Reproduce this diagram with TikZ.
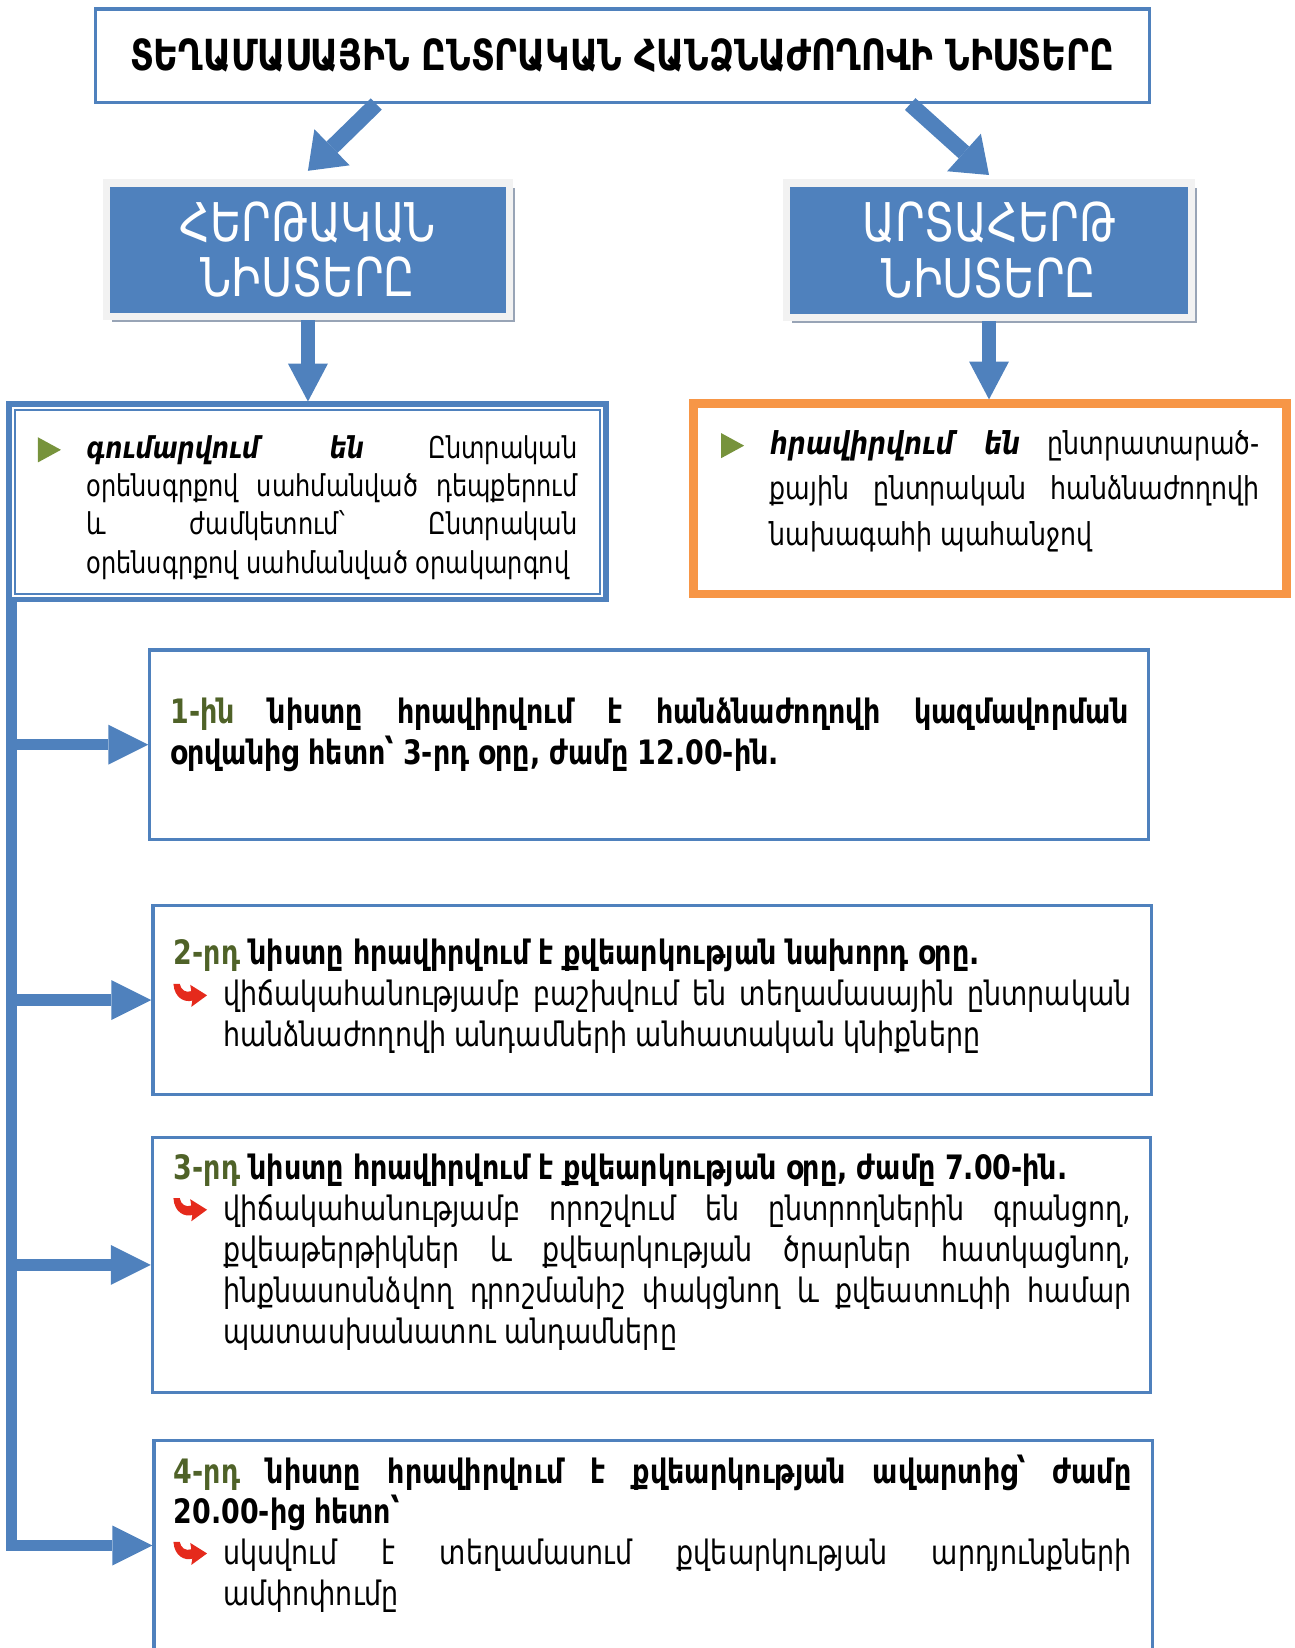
\documentclass[tikz,border=0pt]{standalone}
\usepackage{fontspec}
\setmainfont{DejaVu Sans}[FakeStretch=0.8]
\usetikzlibrary{arrows.meta}
\usetikzlibrary{shadows}
\usetikzlibrary{positioning}
\definecolor{boxblue}{HTML}{4F81BD}
\definecolor{boxorange}{HTML}{F79646}
\definecolor{bulgreen}{HTML}{77933C}
\definecolor{numgreen}{HTML}{4F6228}
\definecolor{framegray}{HTML}{F2F2F2}
\definecolor{shadowgray}{HTML}{98A4B6}
\definecolor{bulred}{HTML}{E52A1C}
\hyphenpenalty=10000
\exhyphenpenalty=10000

\begin{document}
\begin{tikzpicture}[
    x=0.5pt, y=-0.5pt,
    font=\fontsize{16}{19.5}\selectfont
]
\tikzset{
    titlebox/.style = {rectangle, draw=boxblue, line width=1.5pt, minimum width=501.5pt, minimum height=44.5pt, font=\fontsize{20.4}{24}\selectfont\bfseries},
    bluebox/.style = {rectangle, fill=boxblue, draw=framegray, line width=3.5pt, text=white, align=center,
        font=\fontsize{25.4}{26.5}\selectfont, drop shadow={shadow xshift=2.6pt, shadow yshift=-2.6pt, fill=shadowgray, opacity=1}},
    leftbox/.style = {rectangle, draw=boxblue, line width=2.5pt, minimum width=284pt, minimum height=93pt},
    orangebox/.style = {rectangle, draw=boxorange, line width=3pt, minimum width=283pt, minimum height=91.5pt},
    stepbox/.style = {rectangle, draw=boxblue, line width=1.5pt, minimum width=475pt},
    bodytxt/.style = {anchor=base west, inner sep=0pt, align=justify},
    bigarr/.style = {boxblue, line width=7.5pt, -{Triangle[width=24pt,length=16pt,line width=0pt]}},
    downarr/.style = {boxblue, line width=7pt, -{Triangle[width=19pt,length=18pt,line width=0pt]}},
    spinearr/.style = {boxblue, line width=5.5pt, -{Triangle[width=19pt,length=19pt,line width=0pt]}},
    tribul/.pic = {\fill[bulgreen] (-11,-12) -- (11,0) -- (-11,12) -- cycle;},
    redbul/.pic = {\fill[bulred] (-16,-10) .. controls (-15,4) and (-5,8) .. (2,6) -- (1,12) -- (16,1) -- (0,-9) -- (1,-3) .. controls (-4,-1) and (-9,-4) .. (-10,-10) -- cycle;}
}
\useasboundingbox (0,0) rectangle (1232,1568);
\clip (0,0) rectangle (1232,1568);

\node[titlebox] at (592,53) (title) {ՏԵՂԱՄԱՍԱՅԻՆ ԸՆՏՐԱԿԱՆ ՀԱՆՁՆԱԺՈՂՈՎԻ ՆԻՍՏԵՐԸ};
\node[bluebox, minimum width=191.5pt, minimum height=63.5pt] at (293,237.5) (lblue) {ՀԵՐԹԱԿԱՆ\\ՆԻՍՏԵՐԸ};
\node[bluebox, minimum width=192.5pt, minimum height=64pt] at (941,238) (rblue) {ԱՐՏԱՀԵՐԹ\\ՆԻՍՏԵՐԸ};

\node[leftbox] at (292.5,477.5) (lleft) {};
\draw[boxblue, line width=0.8pt] ([shift={(4pt,-4pt)}]lleft.north west) rectangle ([shift={(-4pt,4pt)}]lleft.south east);
\node[orangebox] at (942,474.5) (rorange) {};
\draw[boxorange, line width=1pt] ([shift={(3.5pt,-3.5pt)}]rorange.north west) rectangle ([shift={(-3.5pt,3.5pt)}]rorange.south east);

\node[stepbox, minimum height=90pt] at (617.5,708.5) (box1) {};
\node[stepbox, minimum height=90pt] at (620.5,951.5) (box2) {};
\node[stepbox, minimum height=121pt] at (620,1203.5) (box3) {};
\node[stepbox, minimum height=100pt] at (621.5,1470.5) (box4) {};

\pic at (47,428) {tribul};
\node[bodytxt, text width=233.5pt, font=\fontsize{14.3}{18.2}\selectfont] at (82,436) (tleft) {\textbf{\textit{գումարվում են}} Ընտրական\linebreak օրենսգրքով սահմանված դեպքերում\linebreak և ժամկետում՝ Ընտրական\linebreak օրենսգրքով սահմանված օրակարգով};
\pic at (697,424) {tribul};
\node[bodytxt, text width=233pt, font=\fontsize{15}{21.75}\selectfont] at (732,432) (tright) {\textbf{\textit{հրավիրվում են}} ընտրատարած-\linebreak քային ընտրական հանձնաժողովի\linebreak նախագահի պահանջով};

\node[bodytxt, text width=455.5pt] at (162,688) (t1) {\bfseries{\color{numgreen}1-ին} նիստը հրավիրվում է հանձնաժողովի կազմավորման\linebreak օրվանից հետո՝ 3-րդ օրը, ժամը 12.00-ին.};
\node[bodytxt, text width=455.5pt] at (165,918) (t2) {{\bfseries{\color{numgreen}2-րդ} նիստը հրավիրվում է քվեարկության նախորդ օրը.\par}\leftskip=23.5pt վիճակահանությամբ բաշխվում են տեղամասային ընտրական\linebreak հանձնաժողովի անդամների անհատական կնիքները\par};
\pic at (181,946) {redbul};
\node[bodytxt, text width=455.5pt] at (165,1122) (t3) {{\bfseries{\color{numgreen}3-րդ} նիստը հրավիրվում է քվեարկության օրը, ժամը 7.00-ին.\par}\leftskip=23.5pt վիճակահանությամբ որոշվում են ընտրողներին գրանցող,\linebreak քվեաթերթիկներ և քվեարկության ծրարներ հատկացնող,\linebreak ինքնասոսնձվող դրոշմանիշ փակցնող և քվեատուփի համար\linebreak պատասխանատու անդամները\par};
\pic at (181,1150) {redbul};
\node[bodytxt, text width=455.5pt] at (165,1411) (t4) {{\bfseries{\color{numgreen}4-րդ} նիստը հրավիրվում է քվեարկության ավարտից՝ ժամը\linebreak 20.00-ից հետո՝\par}\leftskip=23.5pt սկսվում է տեղամասում քվեարկության արդյունքների\linebreak ամփոփումը\par};
\pic at (181,1477) {redbul};

\draw[bigarr] ([xshift=-117pt]title.south) -- ([yshift=4pt]lblue.north);
\draw[bigarr] ([xshift=137pt]title.south) -- ([yshift=2pt]rblue.north);
\draw[downarr] (lblue.south) -- (lblue.south |- lleft.north);
\draw[downarr] (rblue.south) -- (rblue.south |- rorange.north);

\coordinate (spine) at ([xshift=2.5pt, yshift=2pt]lleft.south west);
\draw[spinearr] (spine) |- (box4.west);
\draw[spinearr] (spine |- box1.west) -- (box1.west);
\draw[spinearr] (spine |- box2.west) -- (box2.west);
\draw[spinearr] (spine |- box3.west) -- (box3.west);
\end{tikzpicture}
\end{document}
